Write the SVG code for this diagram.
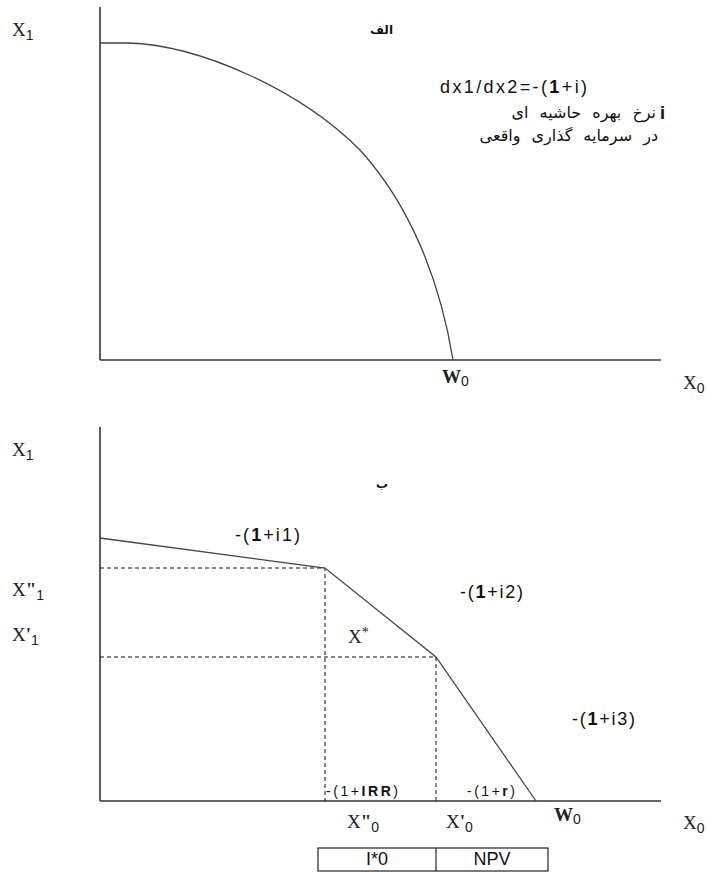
<svg xmlns="http://www.w3.org/2000/svg" width="709" height="872" viewBox="0 0 709 872">
<style>
.ax{stroke:#333;stroke-width:1.6;fill:none}
.cv{stroke:#444;stroke-width:1.3;fill:none}
.dash{stroke:#111;stroke-width:1;stroke-dasharray:4 3;fill:none}
.var{font-family:"Liberation Serif",serif;font-size:19px;fill:#222}
.sub{font-family:"Liberation Sans",sans-serif;font-size:14px}
.lbl{font-family:"Liberation Sans",sans-serif;font-size:18px;fill:#111}
.sm{font-family:"Liberation Sans",sans-serif;font-size:14px;fill:#111}
.fa{font-family:"DejaVu Sans",sans-serif;fill:#111}
.box{stroke:#222;stroke-width:1.2;fill:none}
</style>
<rect width="709" height="872" fill="#fff"/>
<g id="chart-top">
  <g id="axes-top">
    <line class="ax" x1="100" y1="7" x2="100" y2="360"/>
    <line class="ax" x1="100" y1="360" x2="661" y2="360"/>
  </g>
  <path id="curve-top" class="cv" d="M100,43 L128,43 C200,45 300,90 360,150 C410,205 440,280 453,360"/>
  <text class="var" x="12" y="36">X<tspan class="sub" dy="4">1</tspan></text>
  <text class="var" x="683" y="389">X<tspan class="sub" dy="4">0</tspan></text>
  <text class="var" x="442" y="383" font-weight="bold">W<tspan class="sub" font-weight="normal" dy="3">0</tspan></text>
  <text class="fa" x="393" y="34" text-anchor="end" font-weight="bold" font-size="12">الف</text>
  <text class="lbl" x="440" y="93" textLength="147" lengthAdjust="spacing">dx1/dx2=-(<tspan font-weight="bold">1</tspan>+i)</text>
  <text class="lbl" x="660" y="119" font-weight="bold" font-size="16">i</text>
  <text class="fa" x="656" y="118" text-anchor="end" font-size="16" word-spacing="6">نرخ بهره حاشیه ای</text>
  <text class="fa" x="658" y="141" text-anchor="end" font-size="16" word-spacing="6">در سرمایه گذاری واقعی</text>
</g>
<g id="chart-bottom">
  <g id="axes-bottom">
    <line class="ax" x1="100" y1="427" x2="100" y2="801"/>
    <line class="ax" x1="100" y1="801" x2="661" y2="801"/>
  </g>
  <g id="guides">
    <polyline class="dash" points="100,568 325,568 325,801"/>
    <polyline class="dash" points="100,657 436,657 436,801"/>
  </g>
  <polyline id="frontier" class="cv" points="100,538 325,568 436,657 536,801"/>
  <text class="var" x="12" y="456">X<tspan class="sub" dy="4">1</tspan></text>
  <text class="var" x="12" y="596">X<tspan font-weight="bold">"</tspan><tspan class="sub" dy="4">1</tspan></text>
  <text class="var" x="12" y="641">X<tspan font-weight="bold">'</tspan><tspan class="sub" dy="4">1</tspan></text>
  <text class="var" x="348" y="643">X<tspan font-size="14" dy="-6">*</tspan></text>
  <text class="fa" x="382" y="488" text-anchor="middle" font-weight="bold" font-size="12">ب</text>
  <text class="lbl" x="235" y="541" textLength="65" lengthAdjust="spacing">-(<tspan font-weight="bold">1</tspan>+i1)</text>
  <text class="lbl" x="460" y="598" textLength="63" lengthAdjust="spacing">-(<tspan font-weight="bold">1</tspan>+i2)</text>
  <text class="lbl" x="572" y="725" textLength="63" lengthAdjust="spacing">-(<tspan font-weight="bold">1</tspan>+i3)</text>
  <text class="sm" x="326" y="796" textLength="72" lengthAdjust="spacing">-(1+<tspan font-weight="bold">IRR</tspan>)</text>
  <text class="sm" x="467" y="796" textLength="48" lengthAdjust="spacing">-(1+<tspan font-weight="bold">r</tspan>)</text>
  <text class="var" x="347" y="828">X<tspan font-weight="bold">"</tspan><tspan class="sub" dy="4">0</tspan></text>
  <text class="var" x="446" y="828">X<tspan font-weight="bold">'</tspan><tspan class="sub" dy="4">0</tspan></text>
  <text class="var" x="554" y="821" font-weight="bold">W<tspan class="sub" font-weight="normal" dy="3">0</tspan></text>
  <text class="var" x="683" y="829">X<tspan class="sub" dy="4">0</tspan></text>
  <g id="box">
    <rect class="box" x="318" y="848" width="230" height="23"/>
    <line class="box" x1="436" y1="848" x2="436" y2="871"/>
    <text class="lbl" x="377" y="865" text-anchor="middle" font-size="15">I*0</text>
    <text class="lbl" x="492" y="865" text-anchor="middle" font-size="15">NPV</text>
  </g>
</g>
</svg>
